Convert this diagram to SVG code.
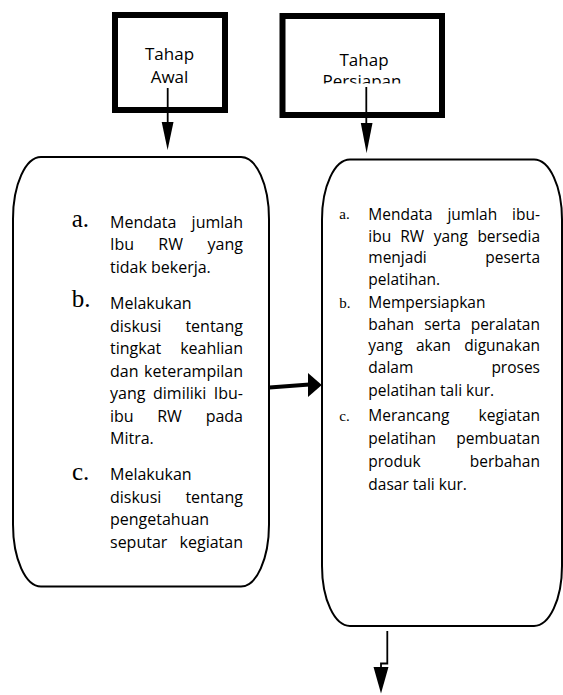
<svg xmlns="http://www.w3.org/2000/svg" width="563" height="695" viewBox="0 0 563 695">
<style>
.hbox{fill:#fff;stroke:#000;stroke-width:6}
.rbox{fill:#fff;stroke:#000;stroke-width:2}
.ht{font-family:"Open Sans","Noto Sans",sans-serif;font-size:17px;fill:#000;text-anchor:middle}
.lt{font-family:"Open Sans","Noto Sans",sans-serif;font-size:16px;fill:#000}
.rt{font-family:"Open Sans","Noto Sans",sans-serif;font-size:15.5px;fill:#000}
.lm{font-family:"Liberation Serif","Times New Roman",serif;font-size:25px;fill:#000}
.rm{font-family:"Liberation Serif","Times New Roman",serif;font-size:15px;fill:#000}
.e{text-anchor:end}
.line{fill:none;stroke:#000;stroke-width:1.8}
.thick{fill:none;stroke:#000;stroke-width:4}
.head{fill:#000;stroke:none}
</style>
<defs>
<clipPath id="clip2"><rect x="285" y="19" width="154" height="64.5"/></clipPath>
</defs>
<rect width="563" height="695" fill="#fff"/>

<g id="tahap-awal">
<rect class="hbox" x="115" y="15" width="110" height="95"/>
<text class="ht" x="169.5" y="60">Tahap</text>
<text class="ht" x="169.5" y="83.3">Awal</text>
</g>

<g id="tahap-persiapan">
<rect class="hbox" x="282.5" y="16" width="159.5" height="99"/>
<g clip-path="url(#clip2)">
<text class="ht" x="364" y="65.5">Tahap</text>
<text class="ht" x="362" y="87.3">Persiapan</text>
</g>
</g>

<g id="awal-list">
<path class="rbox" d="M 41 157 H 241 A 28 62 0 0 1 269 219 V 524.5 A 28 62 0 0 1 241 586.5 H 41 A 28 62 0 0 1 13 524.5 V 219 A 28 62 0 0 1 41 157 Z"/>
<text class="lm" x="71.7" y="226.5">a.</text>
<text class="lt" x="110" y="228">Mendata</text><text class="lt e" x="243" y="228">jumlah</text>
<text class="lt" x="110" y="250.3">Ibu</text><text class="lt" x="158.3" y="250.3">RW</text><text class="lt e" x="243" y="250.3">yang</text>
<text class="lt" x="110" y="272.6">tidak bekerja.</text>
<text class="lm" x="71.7" y="307">b.</text>
<text class="lt" x="110" y="309.3">Melakukan</text>
<text class="lt" x="110" y="331.7">diskusi</text><text class="lt e" x="243" y="331.7">tentang</text>
<text class="lt" x="110" y="354">tingkat</text><text class="lt e" x="243" y="354">keahlian</text>
<text class="lt" x="110" y="376.5">dan</text><text class="lt e" x="243" y="376.5">keterampilan</text>
<text class="lt" x="110" y="399">yang</text><text class="lt" x="153" y="399">dimiliki</text><text class="lt e" x="243" y="399">Ibu-</text>
<text class="lt" x="110" y="421.5">ibu</text><text class="lt" x="157.2" y="421.5">RW</text><text class="lt e" x="243" y="421.5">pada</text>
<text class="lt" x="110" y="444">Mitra.</text>
<text class="lm" x="72" y="479.5">c.</text>
<text class="lt" x="110" y="480">Melakukan</text>
<text class="lt" x="110" y="502.5">diskusi</text><text class="lt e" x="243" y="502.5">tentang</text>
<text class="lt" x="110" y="525">pengetahuan</text>
<text class="lt" x="110" y="547.5">seputar</text><text class="lt e" x="243" y="547.5">kegiatan</text>
</g>

<g id="persiapan-list">
<path class="rbox" d="M 350 159.5 H 534 A 28 60 0 0 1 562 219.5 V 566 A 28 60 0 0 1 534 626 H 350 A 28 60 0 0 1 322 566 V 219.5 A 28 60 0 0 1 350 159.5 Z"/>
<text class="rm" x="339.3" y="219">a.</text>
<text class="rt" x="368.3" y="220">Mendata</text><text class="rt" x="447.4" y="220">jumlah</text><text class="rt e" x="540" y="220">ibu-</text>
<text class="rt" x="368.3" y="241.7">ibu</text><text class="rt" x="400.3" y="241.7">RW</text><text class="rt" x="433.7" y="241.7">yang</text><text class="rt e" x="540" y="241.7">bersedia</text>
<text class="rt" x="368.3" y="263.3">menjadi</text><text class="rt e" x="540" y="263.3">peserta</text>
<text class="rt" x="368.3" y="285">pelatihan.</text>
<text class="rm" x="339.3" y="307.5">b.</text>
<text class="rt" x="368.3" y="307.8">Mempersiapkan</text>
<text class="rt" x="368.3" y="329.5">bahan</text><text class="rt" x="424.2" y="329.5">serta</text><text class="rt e" x="540" y="329.5">peralatan</text>
<text class="rt" x="368.3" y="351.2">yang</text><text class="rt" x="416" y="351.2">akan</text><text class="rt e" x="540" y="351.2">digunakan</text>
<text class="rt" x="368.3" y="373">dalam</text><text class="rt e" x="540" y="373">proses</text>
<text class="rt" x="368.3" y="396">pelatihan tali kur.</text>
<text class="rm" x="339.3" y="420.5">c.</text>
<text class="rt" x="368.3" y="421">Merancang</text><text class="rt e" x="540" y="421">kegiatan</text>
<text class="rt" x="368.3" y="444">pelatihan</text><text class="rt e" x="540" y="444">pembuatan</text>
<text class="rt" x="368.3" y="466.5">produk</text><text class="rt e" x="540" y="466.5">berbahan</text>
<text class="rt" x="368.3" y="489.5">dasar tali kur.</text>
</g>

<g id="connectors">
<line class="line" x1="167.7" y1="88" x2="167.7" y2="123"/>
<polygon class="head" points="161.7,122 173.5,122 167.6,150"/>
<line class="line" x1="366.3" y1="87" x2="366.3" y2="124"/>
<polygon class="head" points="360.8,123 372.5,123 366.6,153"/>
<line class="thick" x1="269.5" y1="387.5" x2="309.5" y2="384.5"/>
<polygon class="head" points="308,373 321.8,385 308,397"/>
<polyline class="line" points="387.3,631 387.3,663.5 381,663.5 381,668"/>
<polygon class="head" points="373.5,667 388.5,667 381,693.5"/>
</g>
</svg>
